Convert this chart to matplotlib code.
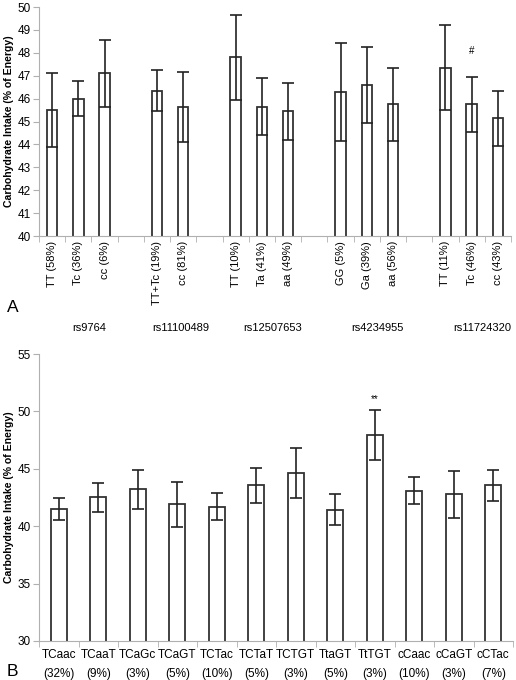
import numpy as np
import matplotlib.pyplot as plt
import matplotlib.transforms as mtransforms

plt.rcParams['font.family'] = ['Liberation Sans', 'DejaVu Sans']

# Panel A data: genotypes per SNP
snps = ['rs9764', 'rs11100489', 'rs12507653', 'rs4234955', 'rs11724320']
genotypes = [
    ['TT (58%)', 'Tc (36%)', 'cc (6%)'],
    ['TT+Tc (19%)', 'cc (81%)'],
    ['TT (10%)', 'Ta (41%)', 'aa (49%)'],
    ['GG (5%)', 'Ga (39%)', 'aa (56%)'],
    ['TT (11%)', 'Tc (46%)', 'cc (43%)'],
]
means_a = [
    [45.5, 46.0, 47.1],
    [46.35, 45.65],
    [47.8, 45.65, 45.45],
    [46.3, 46.6, 45.75],
    [47.35, 45.75, 45.15],
]
errs_a = [
    [1.6, 0.75, 1.45],
    [0.88, 1.53],
    [1.85, 1.25, 1.25],
    [2.15, 1.65, 1.6],
    [1.85, 1.2, 1.2],
]

# Panel B data: haplotypes
haplotypes = ['TCaac', 'TCaaT', 'TCaGc', 'TCaGT', 'TCTac', 'TCTaT',
              'TCTGT', 'TtaGT', 'TtTGT', 'cCaac', 'cCaGT', 'cCTac']
hap_freq = ['32%', '9%', '3%', '5%', '10%', '5%', '3%', '5%', '3%', '10%', '3%', '7%']
means_b = [41.5, 42.5, 43.2, 41.9, 41.7, 43.55, 44.65, 41.45, 47.95, 43.1, 42.8, 43.55]
errs_b = [0.95, 1.23, 1.7, 1.95, 1.15, 1.5, 2.2, 1.38, 2.2, 1.15, 2.05, 1.35]

ylabel = 'Carbohydrate Intake (% of Energy)'
axis_grey = '#b0b0b0'


def style_axes(ax, xsize):
    for s in ['top', 'right']:
        ax.spines[s].set_visible(False)
    ax.spines['left'].set_color(axis_grey)
    ax.spines['bottom'].set_color(axis_grey)
    ax.tick_params(axis='y', colors=axis_grey, labelcolor='black', length=4, pad=2,
                   labelsize=8.5)
    ax.tick_params(axis='x', which='major', length=0, labelsize=xsize, labelcolor='black')
    ax.tick_params(axis='x', which='minor', length=4, colors=axis_grey)
    ax.set_ylabel(ylabel, fontsize=7.6, fontweight='bold')
    ax.yaxis.set_label_coords(-0.052, 0.5)


fig = plt.figure(figsize=(5.16, 6.8), dpi=100)

# ---- Panel A ----
axA = fig.add_axes([0.0756, 0.6529, 0.9147, 0.3368])
pos, labels, vals, errs, centers = [], [], [], [], []
x = 0
for g, m, e in zip(genotypes, means_a, errs_a):
    start = x
    for lab, v, er in zip(g, m, e):
        pos.append(x)
        labels.append(lab)
        vals.append(v)
        errs.append(er)
        x += 1
    centers.append((start + x - 1) / 2)
    x += 1  # gap slot
axA.bar(pos, vals, width=0.4, color='white', edgecolor='#333333', linewidth=1.3,
        yerr=errs, capsize=4.5, error_kw=dict(ecolor='#222222', elinewidth=1.2, capthick=1.2))
axA.set_xlim(-0.5, 17.5)
axA.set_ylim(40, 50)
axA.set_yticks(np.arange(40, 51, 1))
axA.set_xticks(pos)
axA.set_xticklabels(labels, rotation=90, va='top')
axA.set_xticks(np.arange(-0.5, 18, 1), minor=True)
style_axes(axA, 8)
trA = mtransforms.blended_transform_factory(axA.transData, fig.transFigure)
for c, s in zip(centers, snps):
    axA.text(c + 0.4, 1 - 328 / 680, s, transform=trA, ha='center', va='center', fontsize=8)
# significance mark
axA.text(16, 48.1, '#', ha='center', va='center', fontsize=7)
fig.text(13 / 516, 1 - 308 / 680, 'A', fontsize=12.5, ha='center', va='center')

# ---- Panel B ----
axB = fig.add_axes([0.0756, 0.0574, 0.9186, 0.422])
xb = np.arange(len(haplotypes))
axB.bar(xb, means_b, width=0.4, color='white', edgecolor='#333333', linewidth=1.3,
        yerr=errs_b, capsize=4.5, error_kw=dict(ecolor='#222222', elinewidth=1.2, capthick=1.2))
axB.set_xlim(-0.5, len(haplotypes) - 0.5)
axB.set_ylim(30, 55)
axB.set_yticks(np.arange(30, 56, 5))
axB.set_xticks(xb)
axB.set_xticklabels([f'{h}\n({f})' for h, f in zip(haplotypes, hap_freq)], linespacing=1.75)
axB.set_xticks(np.arange(-0.5, len(haplotypes), 1), minor=True)
style_axes(axB, 8.5)
axB.tick_params(axis='x', which='major', pad=6)
axB.text(haplotypes.index('TtTGT'), 51.1, '**', ha='center', va='center', fontsize=7)
fig.text(12 / 516, 1 - 672 / 680, 'B', fontsize=12.5, ha='center', va='center')

fig.savefig('out.png', dpi=100)
